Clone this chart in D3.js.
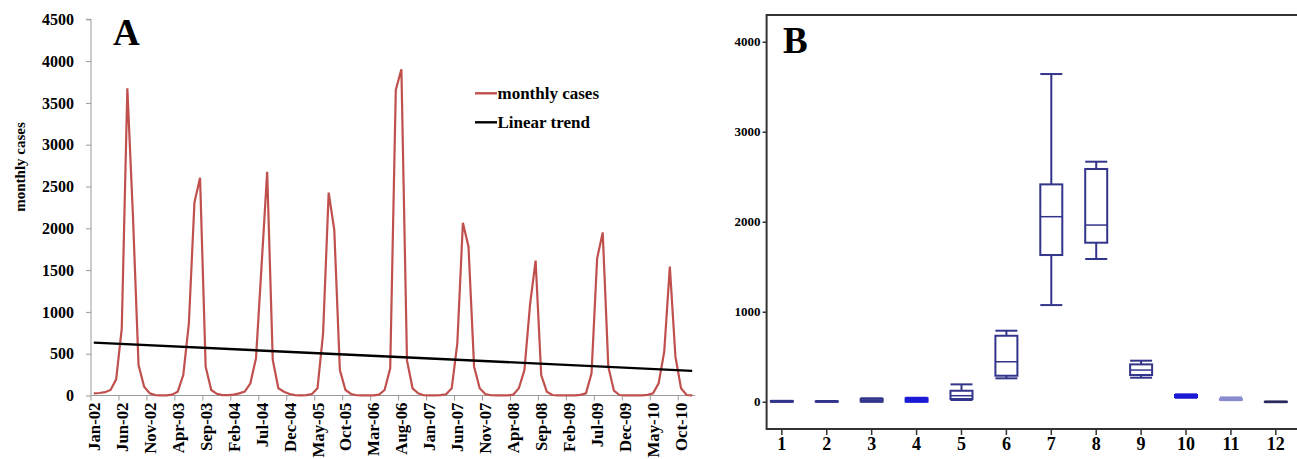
<!DOCTYPE html>
<html>
<head>
<meta charset="utf-8">
<script src="https://cdn.jsdelivr.net/npm/d3@7"></script>
<style>
  html, body { margin: 0; padding: 0; background: #fff; }
  svg { display: block; }
  text { font-family: "Liberation Serif", "Times New Roman", serif; font-weight: bold; fill: #000; }
</style>
</head>
<body>
<svg id="chart" width="1297" height="459"></svg>
<script>
// ---------------- DATA ----------------
// Panel A: monthly cases Jan-02 .. Dec-10
const cases2002 = [25, 30, 40, 66, 193, 803, 3674, 2150, 365, 106, 26, 5];
const cases2003 = [2, 2, 10, 46, 245, 863, 2311, 2605, 345, 66, 20, 5];
const cases2004 = [5, 10, 25, 46, 146, 445, 1550, 2677, 425, 86, 46, 18];
const cases2005 = [5, 2, 5, 18, 86, 744, 2427, 1980, 305, 66, 18, 3];
const cases2006 = [2, 2, 2, 10, 66, 325, 3654, 3902, 420, 86, 26, 3];
const cases2007 = [2, 2, 5, 15, 86, 624, 2067, 1780, 345, 86, 18, 3];
const cases2008 = [2, 2, 2, 10, 86, 305, 1083, 1613, 245, 46, 6, 2];
const cases2009 = [2, 2, 2, 8, 26, 265, 1640, 1951, 345, 58, 6, 2];
const cases2010 = [2, 2, 2, 8, 26, 146, 525, 1542, 465, 86, 6, 2];
const monthlyCases = [].concat(cases2002, cases2003, cases2004, cases2005, cases2006,
                               cases2007, cases2008, cases2009, cases2010);
// linear trend, value at first and last month
const trendValues = [632, 295];
const xTickLabels = ["Jan-02","Jun-02","Nov-02","Apr-03","Sep-03","Feb-04","Jul-04","Dec-04",
  "May-05","Oct-05","Mar-06","Aug-06","Jan-07","Jun-07","Nov-07","Apr-08","Sep-08","Feb-09",
  "Jul-09","Dec-09","May-10","Oct-10"];
const yTicksA = [0, 500, 1000, 1500, 2000, 2500, 3000, 3500, 4000, 4500];
const legendLabels = ["monthly cases", "Linear trend"];

// Panel B: box plots by calendar month
const boxMonths = ["1","2","3","4","5","6","7","8","9","10","11","12"];
const boxLow    = [0, 0, 0, 0, 19, 260, 1074, 1586, 267, 45, 18, -5];
const boxQ1     = [0, 0, 2, 2, 30, 289, 1630, 1767, 297, 50, 22, -3];
const boxMedian = [2, 2, 15, 20, 67, 444, 2056, 1963, 352, 62, 25, -2];
const boxQ3     = [8, 5, 32, 38, 122, 733, 2415, 2586, 415, 75, 30, 0];
const boxHigh   = [10, 8, 38, 44, 193, 789, 3641, 2667, 456, 82, 48, 2];
const yTicksB = [0, 1000, 2000, 3000, 4000];

// ---------------- STYLES ----------------
const navy = "#33358a";
const boxStroke = {"4": "#1a1ad6", "10": "#1a1ad6", "11": "#8a8ad0", "12": "#2a2a5e"};
const boxFilled = {"4": true, "10": true};

const svg = d3.select("#chart");

// ================= PANEL A =================
const nMonths = monthlyCases.length;
const xA = d3.scaleLinear().domain([0, nMonths]).range([91, 695]);
const yA = d3.scaleLinear().domain([0, 4500]).range([395.5, 19.3]);
const gA = svg.append("g");

// y axis
const yAxisA = d3.axisLeft(yA).tickValues(yTicksA).tickSize(5).tickPadding(12).tickFormat(d3.format("d"));
const gyA = gA.append("g").attr("transform", `translate(${xA(0)},0)`).call(yAxisA);
gyA.select(".domain").attr("stroke", "#9a9a9a").attr("d", `M-5,${yA(4500)}H0V${yA(0)}`);
gyA.selectAll(".tick line").attr("stroke", "#9a9a9a");
gyA.selectAll(".tick text").style("font-size", "16px").attr("font-family", null).attr("fill", "#000");

// x axis (category axis, ticks every 5 months between categories)
const tickIdx = xTickLabels.map((d, i) => i * 5);
gA.append("line").attr("x1", xA(0)).attr("x2", xA(nMonths)).attr("y1", yA(0)).attr("y2", yA(0))
  .attr("stroke", "#9a9a9a");
gA.selectAll(".xtA").data(tickIdx).enter().append("line")
  .attr("x1", d => xA(d)).attr("x2", d => xA(d)).attr("y1", yA(0)).attr("y2", yA(0) + 5)
  .attr("stroke", "#9a9a9a");
gA.selectAll(".xlA").data(xTickLabels).enter().append("text")
  .attr("transform", (d, i) => `translate(${xA(i * 5 + 0.5) + 6},${yA(0) + 7}) rotate(-90)`)
  .attr("text-anchor", "end")
  .style("font-size", "16.8px")
  .text(d => d);

// y title
gA.append("text").attr("transform", "translate(25,167) rotate(-90)").attr("text-anchor", "middle")
  .style("font-size", "15px").text("monthly cases");

// series line
const lineA = d3.line().x((d, i) => xA(i + 0.5)).y(d => yA(d));
gA.append("path").datum(monthlyCases).attr("d", lineA)
  .attr("fill", "none").attr("stroke", "#c0504d").attr("stroke-width", 2.2).attr("stroke-linejoin", "miter");

// trend line
gA.append("line")
  .attr("x1", xA(0.5)).attr("y1", yA(trendValues[0]))
  .attr("x2", xA(nMonths - 0.5)).attr("y2", yA(trendValues[1]))
  .attr("stroke", "#000").attr("stroke-width", 2.4);

// legend
const legendColors = ["#c0504d", "#000"];
legendLabels.forEach((lab, i) => {
  const ly = 93.3 + i * 29;
  gA.append("line").attr("x1", 475).attr("x2", 497).attr("y1", ly).attr("y2", ly)
    .attr("stroke", legendColors[i]).attr("stroke-width", 2.4);
  gA.append("text").attr("x", 497.5).attr("y", ly + 5.5).style("font-size", "17px").text(lab);
});

// panel letter
gA.append("text").attr("x", 113).attr("y", 45).style("font-size", "37px").text("A");

// ================= PANEL B =================
const gB = svg.append("g");
const yB = d3.scaleLinear().domain([-303, 4297]).range([429, 15]);
const xB = d3.scaleBand().domain(boxMonths).range([759.4, 1298.3]).padding(0);
const frameL = 766.6, frameR = 1298, frameT = yB(4297), frameB = yB(-303);

// frame
gB.append("path").attr("d", `M${frameR},${frameT}H${frameL}V${frameB}H${frameR}`)
  .attr("fill", "none").attr("stroke", "#333").attr("stroke-width", 2);

// y axis
const yAxisB = d3.axisLeft(yB).tickValues(yTicksB).tickSize(4).tickPadding(2).tickFormat(d3.format("d"));
const gyB = gB.append("g").attr("transform", `translate(${frameL},0)`).call(yAxisB);
gyB.select(".domain").remove();
gyB.selectAll(".tick line").attr("stroke", "#333").attr("stroke-width", 1.5);
gyB.selectAll(".tick text").style("font-size", "13px").attr("font-family", null).attr("fill", "#000");

// x axis
const xAxisB = d3.axisBottom(xB).tickSize(6).tickPadding(2);
const gxB = gB.append("g").attr("transform", `translate(0,${frameB})`).call(xAxisB);
gxB.select(".domain").remove();
gxB.selectAll(".tick line").attr("stroke", "#333").attr("stroke-width", 1.5);
gxB.selectAll(".tick text").style("font-size", "18px").attr("font-family", null).attr("fill", "#000");

// boxes
const boxes = boxMonths.map((m, i) => ({m, lo: boxLow[i], q1: boxQ1[i], med: boxMedian[i], q3: boxQ3[i], hi: boxHigh[i]}));
const halfW = 11;
boxes.forEach(b => {
  const cx = xB(b.m) + xB.bandwidth() / 2;
  const col = boxStroke[b.m] || navy;
  const g = gB.append("g").attr("stroke", col).attr("stroke-width", 2).attr("fill", "none");
  // whiskers
  g.append("line").attr("x1", cx).attr("x2", cx).attr("y1", yB(b.hi)).attr("y2", yB(b.q3));
  g.append("line").attr("x1", cx).attr("x2", cx).attr("y1", yB(b.q1)).attr("y2", yB(b.lo));
  g.append("line").attr("x1", cx - halfW).attr("x2", cx + halfW).attr("y1", yB(b.hi)).attr("y2", yB(b.hi));
  g.append("line").attr("x1", cx - halfW).attr("x2", cx + halfW).attr("y1", yB(b.lo)).attr("y2", yB(b.lo));
  // box
  g.append("rect").attr("x", cx - halfW).attr("width", 2 * halfW)
    .attr("y", yB(b.q3)).attr("height", Math.max(0, yB(b.q1) - yB(b.q3)))
    .attr("fill", boxFilled[b.m] ? col : "none");
  // median
  g.append("line").attr("x1", cx - halfW).attr("x2", cx + halfW).attr("y1", yB(b.med)).attr("y2", yB(b.med))
    .attr("stroke-width", 1.5);
});

// panel letter
gB.append("text").attr("x", 783).attr("y", 53).style("font-size", "37px").text("B");
</script>
</body>
</html>
